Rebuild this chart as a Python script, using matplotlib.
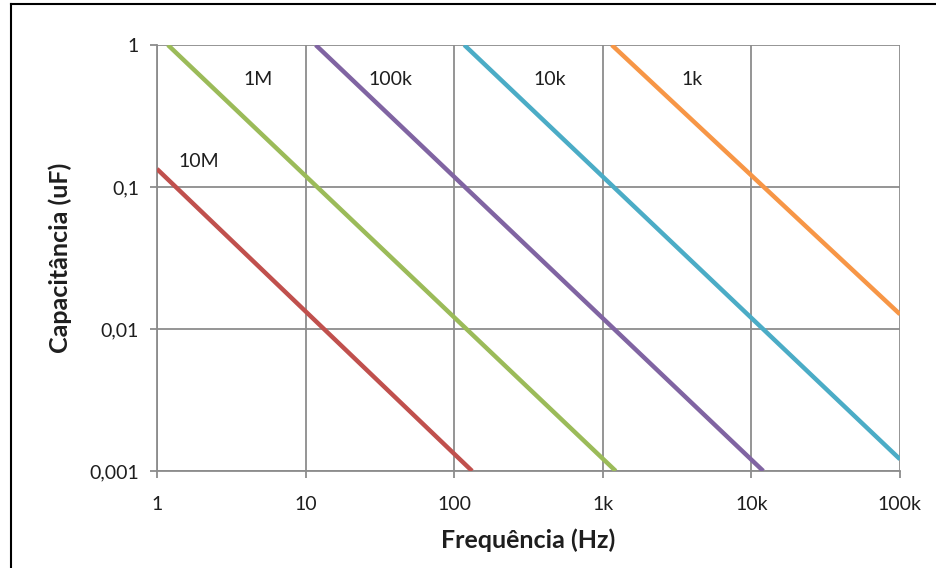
import matplotlib

matplotlib.use("Agg")
import matplotlib.pyplot as plt
from matplotlib.lines import Line2D
from matplotlib.ticker import FixedLocator, NullLocator

plt.rcParams["font.family"] = ["Lato", "DejaVu Sans"]

# resistor value for each line, with the line's end points
resistors = ["10M", "1M", "100k", "10k", "1k"]
freq_start = [1.0, 1.185, 11.7, 117.0, 1150.0]
freq_end = [132.0, 1222.0, 12020.0, 100000.0, 100000.0]
cap_start = [0.134, 1.0, 1.0, 1.0, 1.0]
cap_end = [0.001, 0.001, 0.001, 0.00121, 0.0127]
colors = ["#C0504D", "#9BBB59", "#8064A2", "#4BACC6", "#F79646"]

# label positions (data coords)
label_x = [1.9, 4.8, 37.0, 440.0, 4000.0]
label_y = [0.15, 0.567, 0.567, 0.567, 0.567]

x_ticks = [1, 10, 100, 1000, 10000, 100000]
x_ticklabels = ["1", "10", "100", "1k", "10k", "100k"]
y_ticks = [0.001, 0.01, 0.1, 1]
y_ticklabels = ["0,001", "0,01", "0,1", "1"]

text_col = "#1e1e1e"
grid_col = "#8c8c8c"

fig = plt.figure(figsize=(9.36, 5.68), dpi=100)
ax = fig.add_axes([0.1677, 0.1708, 0.7938, 0.75])

for name, f0, f1, c0, c1, col, lx, ly in zip(
    resistors, freq_start, freq_end, cap_start, cap_end, colors, label_x, label_y
):
    ax.plot([f0, f1], [c0, c1], color=col, lw=3.2, solid_capstyle="butt", zorder=3)
    ax.text(lx, ly, name, fontsize=14, color=text_col, ha="center", va="center")

ax.set_xscale("log")
ax.set_yscale("log")
ax.set_xlim(1, 100000)
ax.set_ylim(0.001, 1)

ax.xaxis.set_major_locator(FixedLocator(x_ticks))
ax.yaxis.set_major_locator(FixedLocator(y_ticks))
ax.xaxis.set_minor_locator(NullLocator())
ax.yaxis.set_minor_locator(NullLocator())
ax.set_xticklabels(x_ticklabels)
ax.set_yticklabels(y_ticklabels)

ax.grid(True, color=grid_col, lw=1.3)
ax.set_axisbelow(True)
for side in ["top", "right"]:
    ax.spines[side].set_visible(False)
for side in ["left", "bottom"]:
    ax.spines[side].set_color(grid_col)
    ax.spines[side].set_linewidth(1.3)

ax.tick_params(axis="both", direction="out", length=5, color=grid_col,
               width=1.3, labelsize=14, labelcolor=text_col)
ax.tick_params(axis="x", pad=13)
ax.tick_params(axis="y", pad=8)

ax.set_xlabel("Frequência (Hz)", fontsize=18, fontweight="bold", color=text_col, labelpad=11)
ax.set_ylabel("Capacitância (uF)", fontsize=18, fontweight="bold", color=text_col, labelpad=12)

# picture frame: only its left and top edges are inside the image
fig.add_artist(Line2D([11 / 936, 11 / 936], [0, 1 - 4 / 568],
                      transform=fig.transFigure, color="black", lw=1.5))
fig.add_artist(Line2D([11 / 936, 1], [1 - 4 / 568, 1 - 4 / 568],
                      transform=fig.transFigure, color="black", lw=1.5))

fig.savefig("out.png", dpi=100)
plt.close(fig)
